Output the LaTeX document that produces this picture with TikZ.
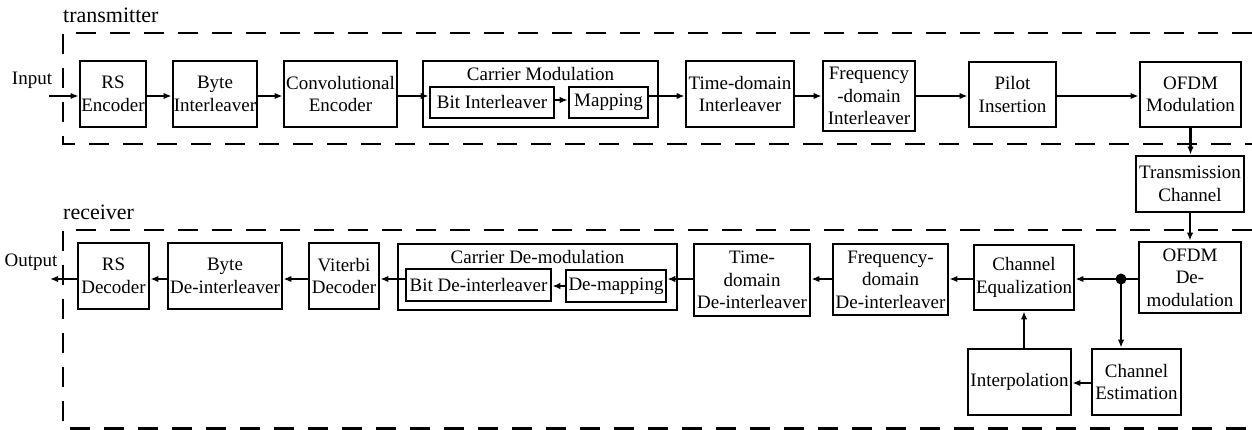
\documentclass[tikz,border=0pt]{standalone}
\usepackage{fontspec}
\setmainfont{Liberation Serif}
\newfontfamily\tnr{Liberation Serif}
\usetikzlibrary{arrows.meta}
\tikzset{
  blk/.style={draw, line width=2.9pt, align=center, inner sep=0pt, font=\tnr\fontsize{19}{22.5}\selectfont},
  inblk/.style={blk, line width=2.7pt},
  arr/.style={line width=2.7pt, -{Latex[length=8pt,width=6.5pt]}},
  ln/.style={line width=2.7pt},
  grp/.style={line width=2.6pt, dash pattern=on 20pt off 14pt},
  lbl/.style={font=\tnr\fontsize{22}{24}\selectfont, inner sep=0pt},
  io/.style={font=\tnr\fontsize{19}{22}\selectfont, inner sep=0pt},
}
\begin{document}
\begin{tikzpicture}[x=1pt,y=-1pt]
\useasboundingbox (0,0) rectangle (1252,430);
% groups
\draw[grp] (1252,33) -- (63,33) -- (63,144) -- (1252,144);
\draw[grp] (1252,230) -- (63,230) -- (63,428.5) -- (1252,428.5);
\node[lbl, anchor=west] (tx) at (63,15) {transmitter};
\node[lbl, anchor=west] (rx) at (63,212) {receiver};
% transmitter
\node[blk, minimum width=66, minimum height=66] (rsenc) at (113,94) {RS\\Encoder};
\node[blk, minimum width=84, minimum height=66] (byteint) at (215,94) {Byte\\Interleaver};
\node[blk, minimum width=113, minimum height=66] (conv) at (340.5,94) {Convolutional\\Encoder};
\node[blk, minimum width=235, minimum height=66] (carmod) at (540.5,94) {};
\node[inblk, minimum width=124, minimum height=31] (bitint) at (492,102.5) {Bit Interleaver};
\node[inblk, minimum width=79, minimum height=31] (mapping) at (608.5,102.5) {Mapping};
\node[io] (cmt) at (540.5,74) {Carrier Modulation};
\node[blk, minimum width=108, minimum height=66] (timeint) at (740,94) {Time-domain\\Interleaver};
\node[blk, minimum width=92, minimum height=70] (freqint) at (869,96) {Frequency\\-domain\\Interleaver};
\node[blk, minimum width=87, minimum height=65] (pilot) at (1012.5,94.5) {Pilot\\Insertion};
\node[blk, minimum width=101, minimum height=65] (ofdm) at (1190.5,94.5) {OFDM\\Modulation};
\node[blk, minimum width=108, minimum height=56] (trans) at (1190,184) {Transmission\\Channel};
\node[io] (input) at (32,80) {Input};
\coordinate (inpt) at (49,96);
\coordinate (trow) at (0,96);
% receiver
\node[blk, minimum width=71, minimum height=66] (rsdec) at (113.5,276) {RS\\Decoder};
\node[blk, minimum width=114, minimum height=66] (bytedeint) at (225,276) {Byte\\De-interleaver};
\node[blk, minimum width=70, minimum height=66] (viterbi) at (344,276) {Viterbi\\Decoder};
\node[blk, minimum width=279, minimum height=66] (cardemod) at (537.5,277) {};
\node[inblk, minimum width=145, minimum height=32] (bitdeint) at (478.5,285) {Bit De-interleaver};
\node[inblk, minimum width=100, minimum height=32] (demap) at (616,286) {De-mapping};
\node[io] (cdt) at (537.5,257) {Carrier De-modulation};
\node[blk, minimum width=116, minimum height=72] (timedeint) at (752,280) {Time-\\domain\\De-interleaver};
\node[blk, minimum width=115, minimum height=71] (freqdeint) at (890.5,279.5) {Frequency-\\domain\\De-interleaver};
\node[blk, minimum width=100, minimum height=65] (chaneq) at (1024,277.5) {Channel\\Equalization};
\node[blk, minimum width=102, minimum height=71] (ofdmdemod) at (1190,277.5) {OFDM\\De-\\modulation};
\node[blk, minimum width=103, minimum height=66] (interp) at (1019.5,382) {Interpolation};
\node[blk, minimum width=89, minimum height=66] (chest) at (1136.5,382) {Channel\\Estimation};
\node[io] (output) at (31,262) {Output};
\coordinate (outpt) at (50,279);
\coordinate (rrow) at (0,279);
\coordinate (dot) at (1121,279);
\fill (dot) circle (5.5pt);
% transmitter arrows
\draw[arr] (inpt) -- (rsenc.west |- trow);
\draw[arr] (rsenc.east |- trow) -- (byteint.west |- trow);
\draw[arr] (byteint.east |- trow) -- (conv.west |- trow);
\draw[arr] (conv.east |- trow) -- (bitint.west |- trow);
\draw[arr] (bitint.east |- 0,100) -- (mapping.west |- 0,100);
\draw[arr] (mapping.east |- trow) -- (timeint.west |- trow);
\draw[arr] (timeint.east |- trow) -- (freqint.west |- trow);
\draw[arr] (freqint.east |- trow) -- (pilot.west |- trow);
\draw[arr] (pilot.east |- trow) -- (ofdm.west |- trow);
\draw[arr] (ofdm.south) -- (ofdm.south |- trans.north);
\draw[arr] (trans.south) -- (trans.south |- ofdmdemod.north);
% receiver arrows
\draw[ln] (ofdmdemod.west |- rrow) -- (dot);
\draw[arr] (dot) -- (chaneq.east |- rrow);
\draw[arr] (dot) -- (dot |- chest.north);
\draw[arr] (chest.west |- 0,383) -- (interp.east |- 0,383);
\draw[arr] (interp.north -| 1024,0) -- (chaneq.south -| 1024,0);
\draw[arr] (chaneq.west |- rrow) -- (freqdeint.east |- rrow);
\draw[arr] (freqdeint.west |- rrow) -- (timedeint.east |- rrow);
\draw[arr] (timedeint.west |- rrow) -- (demap.east |- rrow);
\draw[arr] (demap.west |- 0,286) -- (bitdeint.east |- 0,286);
\draw[arr] (bitdeint.west |- rrow) -- (viterbi.east |- rrow);
\draw[arr] (viterbi.west |- rrow) -- (bytedeint.east |- rrow);
\draw[arr] (bytedeint.west |- rrow) -- (rsdec.east |- rrow);
\draw[arr] (rsdec.west |- rrow) -- (outpt);
\end{tikzpicture}
\end{document}
